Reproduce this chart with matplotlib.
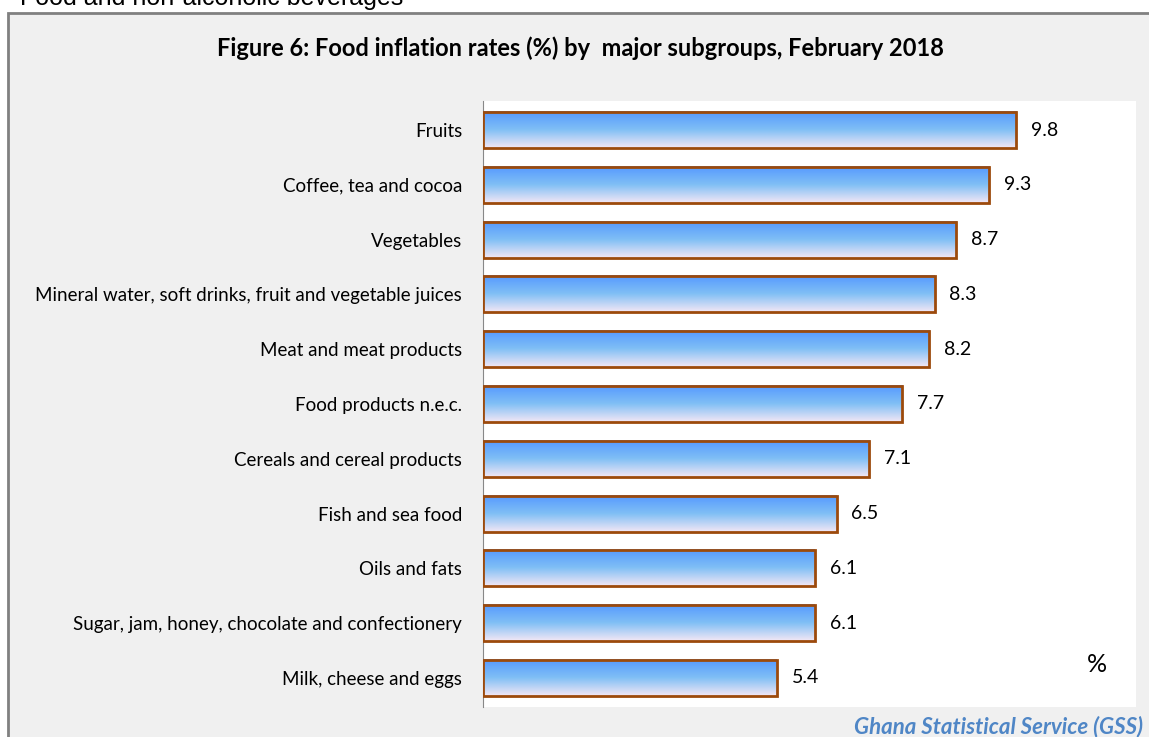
import numpy as np
import matplotlib.pyplot as plt
from matplotlib.colors import LinearSegmentedColormap
from matplotlib.patches import Rectangle

categories = [
    "Fruits",
    "Coffee, tea and cocoa",
    "Vegetables",
    "Mineral water, soft drinks, fruit and vegetable juices",
    "Meat and meat products",
    "Food products n.e.c.",
    "Cereals and cereal products",
    "Fish and sea food",
    "Oils and fats",
    "Sugar, jam, honey, chocolate and confectionery",
    "Milk, cheese and eggs",
]
values = [9.8, 9.3, 8.7, 8.3, 8.2, 7.7, 7.1, 6.5, 6.1, 6.1, 5.4]

title = "Figure 6: Food inflation rates (%) by  major subgroups, February 2018"

plt.rcParams["font.family"] = ["Lato", "DejaVu Sans"]

fig = plt.figure(figsize=(11.49, 7.37), dpi=100)
fig.patch.set_facecolor("white")

# grey chart box
fig.patches.append(Rectangle((8 / 1149, -0.05), 1.1, 1 - 13 / 737 + 0.05,
                             transform=fig.transFigure, facecolor="#f0f0f0",
                             edgecolor="#808080", linewidth=2, zorder=0))

fig.text(20 / 1149, 1 - 5 / 737, "Food and non-alcoholic beverages",
         family="Liberation Sans", fontsize=18, va="baseline", ha="left")

ax = fig.add_axes([483 / 1149, 1 - 707 / 737, (1136 - 483) / 1149, (707 - 101) / 737])
ax.set_zorder(2)
ax.set_facecolor("white")

n = len(categories)
ypos = np.arange(n)[::-1]
h = 0.66

cmap = LinearSegmentedColormap.from_list("bar", ["#5599ff", "#80bff5", "#f3e7f5"])
grad = np.linspace(0, 1, 100).reshape(-1, 1)
for y, v in zip(ypos, values):
    ax.imshow(grad, extent=[0, v, y - h / 2, y + h / 2], origin="upper",
              aspect="auto", cmap=cmap, zorder=2)
ax.barh(ypos, values, height=h, facecolor="none", edgecolor="#9c4a0c",
        linewidth=2, zorder=3)

for y, v in zip(ypos, values):
    ax.text(v + 0.27, y, f"{v:.1f}", va="center", ha="left", fontsize=14)

ax.set_xlim(0, 12)
ax.set_ylim(-0.53, n - 1 + 0.53)
ax.set_yticks(ypos)
ax.set_yticklabels(categories, fontsize=13.5)
ax.tick_params(axis="y", length=0, pad=15)
ax.set_xticks([])
for s in ["top", "right", "bottom"]:
    ax.spines[s].set_visible(False)
ax.spines["left"].set_color("#888888")

fig.text(580 / 1149, 1 - 48 / 737, title, ha="center", va="center",
         fontsize=17, fontweight="bold")
fig.text(1097 / 1149, 1 - 665 / 737, "%", ha="center", va="center", fontsize=18)
fig.text(1143 / 1149, 1 - 727 / 737, "Ghana Statistical Service (GSS)",
         ha="right", va="center", fontsize=16, fontweight="bold",
         fontstyle="italic", color="#4f86c6")

fig.savefig("out.png", dpi=100)
